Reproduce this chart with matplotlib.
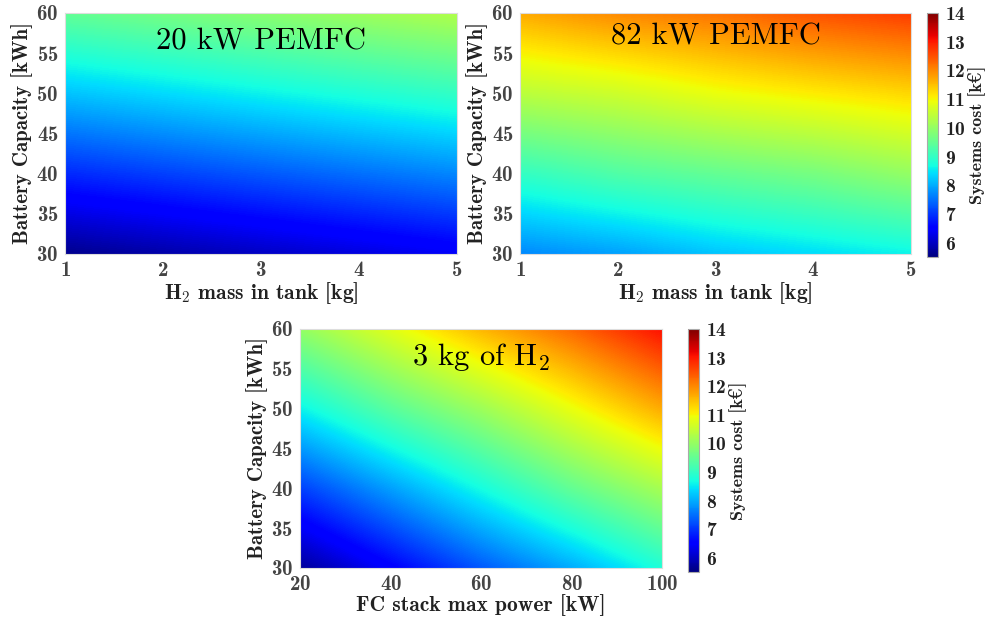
import numpy as np
import matplotlib
matplotlib.use('Agg')
import matplotlib.pyplot as plt
from matplotlib.colors import Normalize

plt.rcParams['mathtext.fontset'] = 'cm'
plt.rcParams['axes.formatter.use_mathtext'] = True

# grid points (tick positions) and system cost [k€] read at each
h2_mass = [1, 2, 3, 4, 5]
fc_power = [20, 40, 60, 80, 100]
battery = [30, 40, 50, 60]

cost_20kw = [[5.6, 5.8, 6.0, 6.2, 6.4],
             [6.9, 7.1, 7.3, 7.5, 7.7],
             [8.2, 8.4, 8.6, 8.8, 9.0],
             [9.5, 9.7, 9.9, 10.1, 10.3]]

cost_82kw = [[7.7, 7.9, 8.2, 8.4, 8.6],
             [9.0, 9.3, 9.5, 9.7, 10.0],
             [10.4, 10.6, 10.9, 11.1, 11.3],
             [11.7, 12.0, 12.2, 12.5, 12.7]]

cost_3kg = [[5.7, 6.5, 7.3, 8.0, 8.8],
            [7.1, 7.9, 8.7, 9.5, 10.2],
            [8.6, 9.4, 10.1, 10.9, 11.7],
            [10.0, 10.8, 11.6, 12.3, 13.1]]

cbar_ticks = [6, 7, 8, 9, 10, 11, 12, 13, 14]
norm = Normalize(vmin=5.5, vmax=14)

bold = ['cmb10', 'DejaVu Serif']
tick_fs = 15
xlabel_fs = 15.5
ylabel_fs = 15

fig = plt.figure(figsize=(9.87, 6.18), dpi=100)


def panel(rect, x, z, xlabel, title, title_y):
    ax = fig.add_axes(rect)
    # pixel centres sit on the grid points, values blended bilinearly
    dx = (x[1] - x[0]) / 2
    dy = (battery[1] - battery[0]) / 2
    m = ax.imshow(np.array(z), cmap='jet', norm=norm, origin='lower',
                  aspect='auto', interpolation='bilinear',
                  interpolation_stage='data',
                  extent=(x[0] - dx, x[-1] + dx,
                          battery[0] - dy, battery[-1] + dy))
    ax.set_xlim(x[0], x[-1])
    ax.set_ylim(30, 60)
    ax.set_xticks(x)
    ax.set_yticks([30, 35, 40, 45, 50, 55, 60])
    ax.tick_params(length=0, pad=5, labelsize=tick_fs, labelcolor='#444444')
    for lab in ax.get_xticklabels() + ax.get_yticklabels():
        lab.set_family(bold)
        lab.set_fontweight('bold')
    for s in ax.spines.values():
        s.set_color('#dddddd')
        s.set_linewidth(0.8)
    ax.set_xlabel(xlabel, family=bold, fontsize=xlabel_fs, color='#222222',
                  labelpad=0)
    ax.set_ylabel('Battery Capacity [kWh]', family=bold, fontsize=ylabel_fs,
                  color='#222222', labelpad=2)
    ax.text(0.5, title_y, title, transform=ax.transAxes, ha='center',
            va='center', family='cmr10', fontsize=22)
    return m


def colorbar(m, rect):
    cax = fig.add_axes(rect)
    cb = fig.colorbar(m, cax=cax, ticks=cbar_ticks)
    cb.outline.set_edgecolor('#aaaaaa')
    cb.outline.set_linewidth(0.8)
    cax.tick_params(length=0, pad=5, labelsize=14, labelcolor='#222222')
    for lab in cax.get_yticklabels():
        lab.set_family(bold)
        lab.set_fontweight('bold')
    cb.set_label('Systems cost [k€]', family=bold, fontsize=13,
                 color='#222222', labelpad=1)


h2_label = r'H$_\mathbf{2}$ mass in tank [kg]'

panel([0.066, 0.589, 0.397, 0.390], h2_mass, cost_20kw,
      h2_label, '20 kW PEMFC', 0.88)
m2 = panel([0.527, 0.589, 0.396, 0.390], h2_mass, cost_82kw,
           h2_label, '82 kW PEMFC', 0.90)
colorbar(m2, [0.939, 0.584, 0.0111, 0.395])

m3 = panel([0.304, 0.081, 0.367, 0.387], fc_power, cost_3kg,
           'FC stack max power [kW]', r'3 kg of H$_2$', 0.88)
colorbar(m3, [0.697, 0.0744, 0.0111, 0.393])

fig.savefig('out.png', dpi=100)
